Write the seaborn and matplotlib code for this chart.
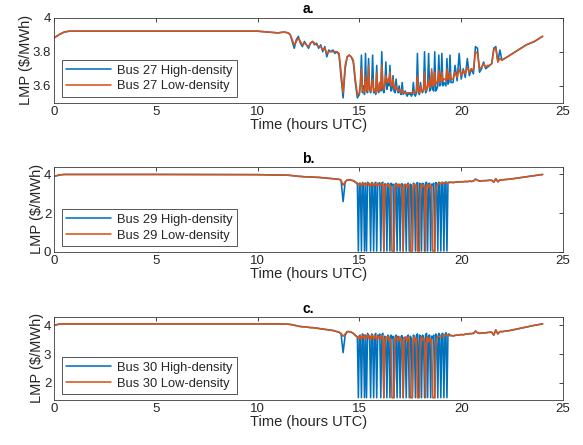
import matplotlib
matplotlib.use("Agg")
import matplotlib.pyplot as plt
import seaborn as sns
import pandas as pd

# ---- time axis (hours UTC): coarse before/after the volatile window ----
t_head = [0, 0.25, 0.5, 0.75, 5, 10, 10.5, 11, 11.3, 11.5]
t_mid1 = [11.6, 11.7, 11.8, 11.9, 12.0, 12.1, 12.2, 12.3, 12.4, 12.5,
          12.6, 12.7, 12.8, 12.9, 13.0, 13.1, 13.2, 13.3, 13.4, 13.5,
          13.6, 13.7, 13.8, 13.9, 14.0, 14.1, 14.2, 14.3, 14.4, 14.5,
          14.6, 14.7, 14.8, 14.9]
t_mid2 = [14.95, 15.00, 15.05, 15.10, 15.15, 15.20, 15.25, 15.30, 15.35, 15.40,
          15.45, 15.50, 15.55, 15.60, 15.65, 15.70, 15.75, 15.80, 15.85, 15.90,
          15.95, 16.00, 16.05, 16.10, 16.15, 16.20, 16.25, 16.30, 16.35, 16.40,
          16.45, 16.50, 16.55, 16.60, 16.65, 16.70, 16.75, 16.80, 16.85, 16.90,
          16.95, 17.00, 17.05, 17.10, 17.15, 17.20, 17.25, 17.30, 17.35, 17.40,
          17.45, 17.50, 17.55, 17.60, 17.65, 17.70, 17.75, 17.80, 17.85, 17.90,
          17.95, 18.00, 18.05, 18.10, 18.15, 18.20, 18.25, 18.30, 18.35, 18.40,
          18.45, 18.50, 18.55, 18.60, 18.65, 18.70, 18.75, 18.80, 18.85, 18.90,
          18.95, 19.00, 19.05, 19.10, 19.15, 19.20, 19.25, 19.30, 19.35, 19.40,
          19.45, 19.50]
t_mid3 = [19.6, 19.7, 19.8, 19.9, 20.0, 20.1, 20.2, 20.3, 20.4, 20.5,
          20.6, 20.7, 20.8, 20.9, 21.0, 21.1, 21.2, 21.3, 21.4, 21.5,
          21.6, 21.7, 21.8, 21.9, 22.0]
t_tail = [22.4, 22.8, 23.2, 23.6, 24.0]
hours = t_head + t_mid1 + t_mid2 + t_mid3 + t_tail

# ---- Bus 27 LMP ($/MWh) ----
bus27_high = [3.88, 3.90, 3.915, 3.92, 3.92, 3.92, 3.915, 3.91, 3.915, 3.91,
              # 11.6 - 14.9
              3.90, 3.86, 3.82, 3.87, 3.89, 3.85, 3.83, 3.86, 3.84, 3.82,
              3.85, 3.86, 3.84, 3.85, 3.82, 3.84, 3.80, 3.83, 3.77, 3.81,
              3.80, 3.81, 3.79, 3.80, 3.78, 3.65, 3.53, 3.70, 3.77, 3.78,
              3.77, 3.74, 3.62, 3.53,
              # 14.95 - 19.5
              3.54, 3.55, 3.62, 3.78, 3.56, 3.60, 3.55, 3.79, 3.57, 3.56,
              3.76, 3.58, 3.56, 3.60, 3.78, 3.56, 3.58, 3.55, 3.72, 3.57,
              3.56, 3.62, 3.57, 3.80, 3.58, 3.56, 3.60, 3.74, 3.58, 3.62,
              3.60, 3.72, 3.57, 3.58, 3.66, 3.57, 3.56, 3.64, 3.58, 3.56,
              3.60, 3.56, 3.55, 3.62, 3.55, 3.56, 3.57, 3.55, 3.54, 3.56,
              3.55, 3.56, 3.54, 3.55, 3.62, 3.55, 3.54, 3.56, 3.79, 3.56,
              3.55, 3.62, 3.57, 3.56, 3.58, 3.80, 3.56, 3.57, 3.60, 3.79,
              3.57, 3.58, 3.68, 3.58, 3.57, 3.80, 3.57, 3.58, 3.60, 3.78,
              3.60, 3.61, 3.79, 3.60, 3.62, 3.61, 3.60, 3.76, 3.61, 3.62,
              3.78, 3.62,
              # 19.6 - 22.0
              3.62, 3.72, 3.63, 3.79, 3.64, 3.70, 3.65, 3.76, 3.66, 3.70,
              3.67, 3.83, 3.82, 3.68, 3.70, 3.74, 3.70, 3.71, 3.72, 3.73,
              3.82, 3.83, 3.74, 3.81, 3.75,
              3.78, 3.81, 3.84, 3.86, 3.89]
bus27_low = [3.88, 3.90, 3.915, 3.92, 3.92, 3.92, 3.915, 3.91, 3.915, 3.91,
             3.90, 3.87, 3.84, 3.86, 3.88, 3.86, 3.84, 3.85, 3.84, 3.83,
             3.85, 3.86, 3.85, 3.84, 3.83, 3.83, 3.81, 3.82, 3.79, 3.80,
             3.80, 3.80, 3.80, 3.80, 3.79, 3.68, 3.56, 3.72, 3.77, 3.78,
             3.77, 3.75, 3.64, 3.55,
             3.55, 3.56, 3.60, 3.70, 3.57, 3.58, 3.56, 3.66, 3.58, 3.57,
             3.72, 3.58, 3.57, 3.60, 3.64, 3.57, 3.58, 3.56, 3.68, 3.57,
             3.57, 3.62, 3.58, 3.72, 3.60, 3.58, 3.62, 3.66, 3.62, 3.64,
             3.62, 3.68, 3.60, 3.60, 3.64, 3.59, 3.58, 3.60, 3.58, 3.57,
             3.58, 3.57, 3.56, 3.58, 3.56, 3.56, 3.56, 3.56, 3.56, 3.56,
             3.56, 3.56, 3.56, 3.56, 3.57, 3.56, 3.56, 3.57, 3.66, 3.57,
             3.56, 3.60, 3.57, 3.57, 3.58, 3.68, 3.57, 3.58, 3.60, 3.64,
             3.59, 3.60, 3.70, 3.60, 3.60, 3.68, 3.61, 3.62, 3.63, 3.69,
             3.62, 3.63, 3.68, 3.63, 3.64, 3.64, 3.63, 3.70, 3.64, 3.64,
             3.68, 3.64,
             3.64, 3.68, 3.65, 3.70, 3.66, 3.69, 3.67, 3.71, 3.68, 3.70,
             3.69, 3.80, 3.79, 3.70, 3.71, 3.73, 3.71, 3.72, 3.72, 3.73,
             3.81, 3.82, 3.74, 3.76, 3.75,
             3.78, 3.81, 3.84, 3.86, 3.89]

# ---- Bus 29 LMP ($/MWh) ----
bus29_high = [3.90, 3.97, 4.00, 4.00, 4.00, 3.99, 3.98, 3.97, 3.96, 3.96,
              3.95, 3.94, 3.93, 3.92, 3.90, 3.90, 3.89, 3.88, 3.88, 3.87,
              3.87, 3.86, 3.86, 3.85, 3.85, 3.84, 3.83, 3.82, 3.81, 3.80,
              3.79, 3.78, 3.77, 3.76, 3.75, 3.70, 2.60, 3.60, 3.72, 3.72,
              3.70, 3.68, 3.60, 3.55,
              0.05, 3.55, 3.50, 0.05, 3.58, 3.52, 0.05, 3.55, 0.05, 3.60,
              3.55, 3.50, 0.05, 3.58, 3.55, 0.05, 3.50, 3.60, 0.05, 3.55,
              3.50, 3.58, 0.05, 3.55, 3.60, 0.05, 3.52, 3.48, 0.05, 3.55,
              3.50, 0.05, 3.55, 3.45, 3.50, 0.05, 3.48, 3.55, 0.05, 3.50,
              3.45, 0.05, 3.50, 3.52, 0.05, 3.48, 3.40, 0.05, 3.50, 3.55,
              0.05, 3.50, 3.45, 0.05, 3.55, 3.50, 0.05, 3.52, 3.58, 0.05,
              3.55, 3.50, 0.05, 3.55, 3.48, 0.05, 3.55, 3.60, 0.05, 3.52,
              3.55, 0.05, 3.50, 3.45, 3.55, 0.05, 3.58, 3.55, 0.05, 3.60,
              3.55, 0.05, 3.58, 3.60, 0.05, 3.55, 3.62, 0.05, 3.58, 3.60,
              3.58, 3.60,
              3.58, 3.60, 3.62, 3.61, 3.63, 3.62, 3.64, 3.63, 3.65, 3.64,
              3.66, 3.76, 3.70, 3.66, 3.67, 3.68, 3.68, 3.69, 3.70, 3.70,
              3.60, 3.78, 3.62, 3.72, 3.72,
              3.76, 3.82, 3.88, 3.94, 4.00]
bus29_low = [3.90, 3.97, 4.00, 4.00, 4.00, 3.99, 3.98, 3.97, 3.96, 3.96,
             3.95, 3.94, 3.93, 3.92, 3.90, 3.90, 3.89, 3.88, 3.88, 3.87,
             3.87, 3.86, 3.86, 3.85, 3.85, 3.84, 3.83, 3.82, 3.81, 3.80,
             3.79, 3.78, 3.77, 3.76, 3.75, 3.70, 3.45, 3.62, 3.72, 3.72,
             3.70, 3.68, 3.60, 3.50,
             3.50, 3.45, 3.55, 3.40, 3.52, 3.48, 3.55, 3.42, 3.50, 3.55,
             3.45, 3.52, 3.40, 3.55, 3.50, 3.42, 3.55, 3.48, 3.40, 3.52,
             3.45, 3.50, 3.42, 3.55, 3.45, 0.05, 3.40, 3.50, 3.45, 3.50,
             3.35, 3.45, 3.30, 0.05, 0.05, 0.05, 3.40, 3.50, 3.45, 3.35,
             3.50, 3.40, 3.45, 3.30, 0.05, 3.40, 3.50, 3.45, 3.35, 3.50,
             3.40, 0.05, 0.05, 0.05, 3.40, 3.50, 3.30, 3.45, 0.05, 0.05,
             0.05, 3.35, 3.50, 3.40, 3.45, 3.30, 0.05, 3.45, 3.50, 3.35,
             3.45, 3.30, 3.40, 0.05, 0.05, 0.05, 3.20, 3.45, 3.50, 3.55,
             3.50, 3.55, 3.52, 3.56, 3.55, 3.58, 3.56, 3.58, 3.57, 3.60,
             3.58, 3.60,
             3.58, 3.60, 3.62, 3.61, 3.63, 3.62, 3.64, 3.63, 3.65, 3.64,
             3.66, 3.76, 3.70, 3.66, 3.67, 3.68, 3.68, 3.69, 3.70, 3.70,
             3.60, 3.78, 3.62, 3.72, 3.72,
             3.76, 3.82, 3.88, 3.94, 4.00]

# ---- Bus 30 LMP ($/MWh) ----
bus30_high = [4.00, 4.04, 4.05, 4.05, 4.05, 4.05, 4.05, 4.05, 4.04, 4.04,
              4.03, 4.02, 4.00, 3.99, 3.97, 3.96, 3.95, 3.95, 3.94, 3.93,
              3.92, 3.92, 3.91, 3.90, 3.89, 3.88, 3.87, 3.86, 3.85, 3.84,
              3.83, 3.82, 3.80, 3.78, 3.76, 3.70, 3.05, 3.65, 3.78, 3.78,
              3.76, 3.72, 3.65, 3.60,
              1.48, 3.65, 3.60, 1.48, 3.70, 3.62, 1.48, 3.66, 1.48, 3.72,
              3.66, 3.60, 1.48, 3.70, 3.66, 1.48, 3.62, 3.72, 1.48, 3.66,
              3.60, 3.70, 1.48, 3.66, 3.72, 1.48, 3.62, 3.58, 1.48, 3.66,
              3.60, 1.48, 3.66, 3.55, 3.62, 1.48, 3.58, 3.66, 1.48, 3.62,
              3.55, 1.48, 3.62, 3.64, 1.48, 3.58, 3.50, 1.48, 3.62, 3.66,
              1.48, 3.62, 3.55, 1.48, 3.66, 3.62, 1.48, 3.64, 3.70, 1.48,
              3.66, 3.62, 1.48, 3.66, 3.58, 1.48, 3.66, 3.72, 1.48, 3.64,
              3.66, 1.48, 3.62, 3.55, 3.66, 1.48, 3.70, 3.66, 1.48, 3.72,
              3.66, 1.48, 3.70, 3.72, 1.48, 3.66, 3.74, 1.48, 3.68, 3.70,
              3.64, 3.65,
              3.63, 3.65, 3.66, 3.66, 3.68, 3.67, 3.69, 3.70, 3.71, 3.71,
              3.72, 3.80, 3.74, 3.72, 3.73, 3.74, 3.74, 3.75, 3.76, 3.76,
              3.66, 3.84, 3.70, 3.78, 3.78,
              3.82, 3.88, 3.94, 4.00, 4.05]
bus30_low = [4.00, 4.04, 4.05, 4.05, 4.05, 4.05, 4.05, 4.05, 4.04, 4.04,
             4.03, 4.02, 4.00, 3.99, 3.97, 3.96, 3.95, 3.95, 3.94, 3.93,
             3.92, 3.92, 3.91, 3.90, 3.89, 3.88, 3.87, 3.86, 3.85, 3.84,
             3.83, 3.82, 3.80, 3.78, 3.76, 3.72, 3.62, 3.70, 3.78, 3.78,
             3.76, 3.72, 3.65, 3.58,
             3.60, 3.55, 3.66, 3.50, 3.62, 3.58, 3.66, 3.52, 3.60, 3.66,
             3.55, 3.62, 3.50, 3.66, 3.60, 3.52, 3.66, 3.58, 3.50, 3.62,
             3.55, 3.60, 3.52, 3.66, 3.55, 1.48, 3.50, 3.60, 3.55, 3.60,
             3.45, 3.55, 3.40, 1.48, 1.48, 1.48, 3.50, 3.60, 3.55, 3.45,
             3.60, 3.50, 3.55, 3.40, 1.48, 3.50, 3.60, 3.55, 3.45, 3.60,
             3.50, 1.48, 1.48, 1.48, 3.50, 3.60, 3.40, 3.55, 1.48, 1.48,
             1.48, 3.45, 3.60, 3.50, 3.55, 3.40, 1.48, 3.55, 3.60, 3.45,
             3.55, 3.40, 3.50, 1.48, 1.48, 1.48, 3.30, 3.55, 3.60, 3.62,
             3.60, 3.62, 3.62, 3.64, 3.62, 3.66, 3.64, 3.66, 3.65, 3.66,
             3.64, 3.65,
             3.63, 3.65, 3.66, 3.66, 3.68, 3.67, 3.69, 3.70, 3.71, 3.71,
             3.72, 3.80, 3.74, 3.72, 3.73, 3.74, 3.74, 3.75, 3.76, 3.76,
             3.66, 3.84, 3.70, 3.78, 3.78,
             3.82, 3.88, 3.94, 4.00, 4.05]

panel_titles = ["a.", "b.", "c."]
bus_ids = [27, 29, 30]
y_limits = [(3.5, 4.0), (0, 4.4), (1.4, 4.3)]
y_ticks = [[3.6, 3.8, 4.0], [0, 2, 4], [2, 3, 4]]
y_ticklabels = [["3.6", "3.8", "4"], ["0", "2", "4"], ["2", "3", "4"]]
x_ticks = [0, 5, 10, 15, 20, 25]

panel_series = [(bus27_high, bus27_low), (bus29_high, bus29_low),
                (bus30_high, bus30_low)]

BLUE = "#0072BD"
ORANGE = "#D95319"
INK = "#262626"
FRAME = "#3a3a3a"

sns.set_theme(style="white")
plt.rcParams["font.family"] = ["Liberation Sans", "DejaVu Sans"]

fig = plt.figure(figsize=(5.83, 4.45), dpi=100)
fig.patch.set_facecolor("white")

# axes boxes in pixels: (left, top, right, bottom)
W, H = 583.0, 445.0
boxes = [(54, 17.5, 563, 103), (54, 166.7, 563, 252), (54, 316.7, 563, 400)]

for k, (x0, ytop, x1, ybot) in enumerate(boxes):
    ax = fig.add_axes([x0 / W, 1 - ybot / H, (x1 - x0) / W, (ybot - ytop) / H])
    high, low = panel_series[k]
    bus = bus_ids[k]
    lab_high = f"Bus {bus} High-density"
    lab_low = f"Bus {bus} Low-density"
    df = pd.DataFrame({
        "hour": hours + hours,
        "lmp": high + low,
        "series": [lab_high] * len(hours) + [lab_low] * len(hours),
    })
    sns.lineplot(data=df, x="hour", y="lmp", hue="series",
                 hue_order=[lab_high, lab_low], palette=[BLUE, ORANGE],
                 estimator=None, sort=False, linewidth=1.15, ax=ax)

    ax.set_xlim(0, 25)
    ax.set_ylim(*y_limits[k])
    ax.set_xticks(x_ticks)
    ax.set_xticklabels([str(v) for v in x_ticks])
    ax.set_yticks(y_ticks[k])
    ax.set_yticklabels(y_ticklabels[k])
    ax.tick_params(direction="in", length=3, width=0.6, top=True, right=True,
                   labelsize=9.5, colors=INK, pad=2)
    for s in ax.spines.values():
        s.set_visible(True)
        s.set_color(FRAME)
        s.set_linewidth(0.6)
    ax.set_xlabel("Time (hours UTC)", fontsize=10.5, color=INK, labelpad=0.5)
    ax.set_ylabel("LMP (\\$/MWh)", fontsize=10.5, color=INK, labelpad=0)
    ax.set_title(panel_titles[k], fontsize=10, fontweight="bold", color="black", pad=3)

    handles, labels = ax.get_legend_handles_labels()
    leg = ax.legend(handles, labels, loc="lower left", bbox_to_anchor=(0.015, 0.07),
                    fontsize=9.3, frameon=True, fancybox=False, framealpha=1,
                    edgecolor=FRAME, handlelength=3.5, handletextpad=0.4,
                    borderpad=0.35, labelspacing=0.3, borderaxespad=0)
    leg.get_frame().set_linewidth(0.6)
    for txt in leg.get_texts():
        txt.set_color(INK)

fig.savefig("out.png", dpi=100, facecolor="white")
